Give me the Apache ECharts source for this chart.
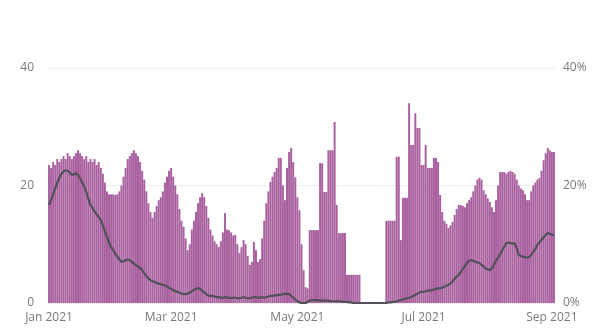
<!DOCTYPE html>
<html>
<head>
<meta charset="utf-8">
<script src="https://cdn.jsdelivr.net/npm/echarts@6/dist/echarts.min.js"></script>
<style>
  html, body { margin: 0; padding: 0; background: #fff; }
  #chart { width: 597px; height: 330px; }
</style>
</head>
<body>
<div id="chart"></div>
<script>
// daily counts (left axis), Jan 1 2021 .. Sep 2 2021
const barJan = [23.5, 23, 24, 23.5, 24.5, 24, 24.5, 25, 24.5, 25.5, 25, 24.5, 25, 25.5, 26, 25.5,
  25, 24.5, 25, 24, 24.5, 24, 24.5, 23.5, 24, 23, 22, 20.5, 19, 18.5, 18.5];
const barFeb = [18.5, 18.4, 18.5, 19, 20, 21.5, 23, 24.5, 25, 25.5, 26, 25.5, 25, 24, 22.5, 21,
  19, 17, 15.5, 14.5, 15.5, 16.5, 17.5, 18, 19, 20.5, 21.5, 22.5];
const barMar = [23, 21.5, 20, 18.5, 16, 14, 13, 11, 9, 10, 12.5, 14, 15.5, 17, 18, 18.7, 18, 16.5,
  14.5, 12.5, 11.5, 10.5, 10, 9.5, 10.5, 12, 15.3, 12.5, 12.4, 12, 11.5];
const barApr = [11.6, 10, 8.5, 9.5, 10.7, 10, 8, 6.5, 7, 10.4, 9, 7, 7.5, 11, 14, 17, 19, 20.6,
  21.5, 22.3, 23, 24.7, 24.7, 20, 17.5, 23, 25.7, 26.4, 24, 21.4];
const barMay = [18, 15.8, 10, 5.6, 2.7, 2.5, 12.4, 12.4, 12.4, 12.4, 12.4, 23.8, 23.8, 18.9, 18.9,
  26, 26, 26, 30.8, 16.7, 11.9, 11.9, 11.9, 11.9, 4.8, 4.8, 4.8, 4.8, 4.8, 4.8, 4.8];
const barJun = [0, 0, 0, 0, 0, 0, 0, 0, 0, 0, 0, 0, 14, 14, 14, 14, 14, 24.9, 24.9, 10.7, 17.9,
  17.9, 17.9, 34, 26.9, 26.9, 32.3, 29.8, 29.8, 23.5];
const barJul = [23.5, 26.9, 23, 23, 23, 24.7, 24.7, 24, 18.4, 15.5, 14, 13.5, 12.8, 13.2, 13.8,
  15, 16, 16.7, 16.7, 16.5, 16.3, 17, 17.5, 18, 19, 20, 21, 21.3, 21, 19.2, 18.5];
const barAug = [17.8, 17.2, 16.3, 15.5, 17.5, 20, 22.3, 22.3, 22.3, 22, 22.3, 22.5, 22.3, 22, 21,
  20, 19.5, 19.2, 18.5, 17.5, 17.5, 19, 20, 20.5, 21, 21.3, 22.5, 24.3, 25.5, 26.4, 26];
const barSep = [25.7, 25.7];

// share in % (right axis)
const lineJan = [16.7, 17.5, 18.5, 19.5, 20.5, 21.3, 22, 22.4, 22.6, 22.5, 22.2, 21.8, 21.9, 22.1,
  21.8, 21.2, 20.6, 19.8, 18.9, 17.8, 16.7, 16.2, 15.6, 15.1, 14.6, 14.1, 13.2, 12.2, 11.2, 10.3, 9.5];
const lineFeb = [9, 8.4, 7.9, 7.4, 7, 7.1, 7.3, 7.4, 7.3, 7, 6.7, 6.4, 6.2, 6, 5.6, 5.1, 4.6, 4.2,
  3.9, 3.7, 3.6, 3.4, 3.3, 3.2, 3.1, 3, 2.8, 2.6];
const lineMar = [2.4, 2.2, 2, 1.9, 1.8, 1.6, 1.5, 1.5, 1.6, 1.8, 2, 2.2, 2.4, 2.5, 2.4, 2.1, 1.8,
  1.5, 1.3, 1.2, 1.2, 1.1, 1, 1, 0.9, 0.9, 1, 0.9, 0.9, 0.8, 0.9];
const lineApr = [0.9, 0.8, 0.8, 0.9, 1, 0.9, 0.8, 0.8, 0.9, 1, 1, 0.9, 0.9, 1, 0.9, 1, 1.1, 1.2,
  1.2, 1.3, 1.3, 1.4, 1.4, 1.5, 1.6, 1.5, 1.5, 1.2, 0.9, 0.6];
const lineMay = [0.3, 0.1, 0, 0, 0, 0.2, 0.4, 0.5, 0.5, 0.5, 0.5, 0.4, 0.4, 0.4, 0.4, 0.4, 0.3, 0.3,
  0.3, 0.3, 0.3, 0.3, 0.2, 0.2, 0.2, 0.1, 0.1, 0, 0, 0, 0];
const lineJun = [0, 0, 0, 0, 0, 0, 0, 0, 0, 0, 0, 0, 0, 0.1, 0.1, 0.2, 0.2, 0.3, 0.4, 0.5, 0.6, 0.7,
  0.8, 0.9, 1, 1.2, 1.4, 1.6, 1.8, 1.9];
const lineJul = [1.9, 2, 2.1, 2.1, 2.2, 2.3, 2.4, 2.5, 2.5, 2.6, 2.8, 2.9, 3.1, 3.3, 3.7, 4.1, 4.5,
  4.8, 5.3, 5.8, 6.3, 6.8, 7.2, 7.3, 7.2, 7, 6.9, 6.8, 6.5, 6.2, 5.9];
const lineAug = [5.7, 5.6, 5.9, 6.5, 7.2, 7.7, 8.3, 9, 9.6, 10.2, 10.3, 10.2, 10.1, 10.2, 9.3, 8.2,
  8, 7.9, 7.8, 7.7, 7.8, 8.2, 8.7, 9.2, 9.9, 10.3, 10.8, 11.2, 11.6, 11.9, 11.8];
const lineSep = [11.6, 11.6];

const tickDates = ['2021-01-01', '2021-03-01', '2021-05-01', '2021-07-01', '2021-09-01'];
const tickLabels = ['Jan 2021', 'Mar 2021', 'May 2021', 'Jul 2021', 'Sep 2021'];

const barData = [].concat(barJan, barFeb, barMar, barApr, barMay, barJun, barJul, barAug, barSep);
const lineData = [].concat(lineJan, lineFeb, lineMar, lineApr, lineMay, lineJun, lineJul, lineAug, lineSep);

// one category per day
const days = [];
for (let i = 0; i < barData.length; i++) {
  const d = new Date(Date.UTC(2021, 0, 1 + i));
  days.push(d.toISOString().slice(0, 10));
}

var chartDom = document.getElementById('chart');
var myChart = echarts.init(chartDom);
var labelFont = { color: '#7a7a7a', fontSize: 12, fontFamily: 'Open Sans' };

var option = {
  animation: false,
  grid: { left: 48, right: 42, top: 68, bottom: 27 },
  xAxis: {
    type: 'category',
    data: days,
    axisLine: { show: false },
    axisTick: { show: false },
    axisLabel: Object.assign({
      margin: 9,
      interval: function (idx, val) { return tickDates.indexOf(val) >= 0; },
      formatter: function (val) { return tickLabels[tickDates.indexOf(val)]; }
    }, labelFont)
  },
  yAxis: [
    {
      type: 'value', min: 0, max: 40, interval: 20,
      axisLabel: Object.assign({ margin: 14 }, labelFont),
      splitLine: { lineStyle: { color: '#ececec', width: 1 } }
    },
    {
      type: 'value', min: 0, max: 40, interval: 20,
      axisLabel: Object.assign({ margin: 8, formatter: '{value}%' }, labelFont),
      splitLine: { show: false }
    }
  ],
  series: [
    {
      type: 'bar',
      data: barData,
      barCategoryGap: '4%',
      itemStyle: { color: '#a9609f' }
    },
    {
      type: 'line',
      yAxisIndex: 1,
      data: lineData,
      symbol: 'none',
      lineStyle: { color: '#52505a', width: 2.2 }
    }
  ]
};

option && myChart.setOption(option);
</script>
</body>
</html>
